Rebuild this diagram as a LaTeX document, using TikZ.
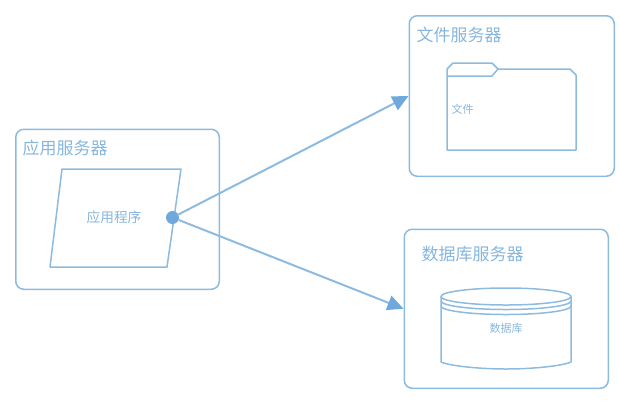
\documentclass[tikz,border=0pt]{standalone}
\usepackage{fontspec}
\setmainfont{Noto Sans CJK SC}
\usepackage{tikz}
\usetikzlibrary{positioning,
                arrows.meta}                % arrow tips

\definecolor{lineblue}{HTML}{8DBBE0}
\definecolor{dotblue}{HTML}{6FA8DC}
\definecolor{textblue}{HTML}{86B6DE}

\tikzset{
    serverbox/.style={draw=lineblue, rounded corners=8pt, line width=1.5pt, inner sep=0pt, anchor=north west},
    servertitle/.style={text=textblue, font=\fontsize{17}{17}\selectfont, inner sep=0pt, anchor=west},
    smalltext/.style={text=textblue, font=\fontsize{11}{11}\selectfont, inner sep=0pt},
    part/.style={draw=lineblue, line width=1.5pt, line join=round},
    link/.style={draw=lineblue, line width=2pt, -{Triangle[length=16pt, width=15pt, fill=dotblue, color=dotblue]}}
}

\begin{document}
\begin{tikzpicture}[x=1pt, y=-1pt]
        \useasboundingbox (0,0) rectangle (620,400);

        % the three servers
        \node[serverbox, minimum width=203.5pt, minimum height=160pt] (appserver) at (15,128.5) {};
        \node[serverbox, minimum width=205pt, minimum height=160.5pt] (fileserver) at (408.5,15) {};
        \node[serverbox, minimum width=204pt, minimum height=159pt] (dbserver) at (403.5,228.5) {};

        \node[servertitle] (apptitle) at (22.5,148.5) {应用服务器};
        \node[servertitle] (filetitle) at (416.5,35) {文件服务器};
        \node[servertitle] (dbtitle) at (421.5,254.5) {数据库服务器};

        % application
        \draw[part] (62,169) -- (181,169) -- (167,267) -- (50,267) -- cycle;
        \node[smalltext, font=\fontsize{13.7}{14}\selectfont] (apptext) at (114,217.5) {应用程序};

        % folder
        \draw[part] (447,150) -- (447,69) -- (453,63) -- (492,63) -- (498,69)
            -- (570,69) -- (576,75) -- (576,150) -- cycle;
        \draw[part] (447,76) -- (492,76) -- (498,69);
        \node[smalltext] (filetext) at (462.5,109) {文件};

        % database
        \draw[part] (441,296.5) -- (441,362) .. controls (450,366) and (480,369) .. (506,369)
            .. controls (532,369) and (562,366) .. (571,362) -- (571,296.5);
        \draw[part] (506,296.5) ellipse (65 and 8.5);
        \draw[part] (441,301) arc (180:0:65 and 8.5);
        \draw[part] (441,306) arc (180:0:65 and 8.5);
        \node[smalltext] (dbtext) at (506,328.5) {数据库};

        % connectors
        \node[circle, fill=dotblue, inner sep=0pt, minimum size=13pt] (appdot) at (172.5,217.5) {};
        \draw[link] (appdot) -- (fileserver.west);
        \draw[link] (appdot) -- (dbserver.west);
\end{tikzpicture}
\end{document}
